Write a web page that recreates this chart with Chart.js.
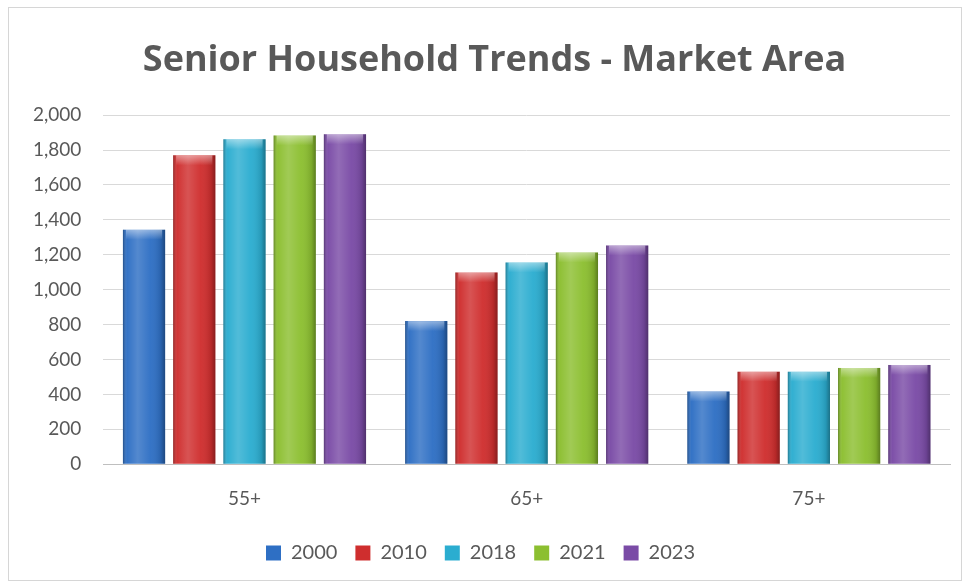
<!DOCTYPE html>
<html>
<head>
<meta charset="utf-8">
<script src="https://cdn.jsdelivr.net/npm/chart.js@4.4.1/dist/chart.umd.min.js"></script>
<style>
    html, body { margin: 0; padding: 0; background: #fff; }
    .frame {
        position: absolute; left: 8px; top: 7px; width: 954px; height: 574px;
        border: 1px solid #d6d6d6; box-sizing: border-box;
    }
    canvas { position: absolute; left: 0; top: 0; }
</style>
</head>
<body>
<div class="frame"></div>
<canvas id="chart" width="967" height="584"></canvas>
<script>
/* Senior household trends - market area */
const categories = ['55+', '65+', '75+'];
const years = ['2000', '2010', '2018', '2021', '2023'];
const values2000 = [1344, 820, 416];
const values2010 = [1770, 1099, 530];
const values2018 = [1862, 1156, 530];
const values2021 = [1884, 1213, 552];
const values2023 = [1891, 1253, 569];
const yTicks = [0, 200, 400, 600, 800, 1000, 1200, 1400, 1600, 1800, 2000];

const seriesValues = [values2000, values2010, values2018, values2021, values2023];
const seriesColors = ['#2e6fc4', '#cf2e2e', '#2badd0', '#8cbf30', '#7a4ba6'];
const textColor = '#595959';
const fontFamily = 'Lato, "Open Sans", sans-serif';

// Glossy shading over each bar, positioned from the bar elements themselves
const bevelPlugin = {
    id: 'bevel',
    afterLayout(chart) {
        // original title sits centred over the plot, not the whole canvas
        if (chart.titleBlock) chart.titleBlock.left += 28;
    },
    afterDatasetsDraw(chart) {
        const ctx = chart.ctx;
        chart.data.datasets.forEach((ds, i) => {
            chart.getDatasetMeta(i).data.forEach(bar => {
                const { x, y, base, width } = bar.getProps(['x', 'y', 'base', 'width'], true);
                const left = x - width / 2;
                const g = ctx.createLinearGradient(left, 0, left + width, 0);
                g.addColorStop(0, 'rgba(0,0,0,0.3)');
                g.addColorStop(0.1, 'rgba(255,255,255,0.03)');
                g.addColorStop(0.35, 'rgba(255,255,255,0.18)');
                g.addColorStop(0.65, 'rgba(255,255,255,0.04)');
                g.addColorStop(0.9, 'rgba(0,0,0,0.12)');
                g.addColorStop(1, 'rgba(0,0,0,0.35)');
                ctx.save();
                ctx.fillStyle = g;
                ctx.fillRect(left, y, width, base - y);
                // top cap highlight
                const cap = ctx.createLinearGradient(0, y, 0, y + 10);
                cap.addColorStop(0, 'rgba(255,255,255,0.45)');
                cap.addColorStop(1, 'rgba(255,255,255,0)');
                ctx.fillStyle = cap;
                ctx.fillRect(left + 3, y, width - 6, 10);
                ctx.restore();
            });
        });
    }
};

const ctx = document.getElementById('chart').getContext('2d');
new Chart(ctx, {
    type: 'bar',
    data: {
        labels: categories,
        datasets: years.map((yr, i) => ({
            label: yr,
            data: seriesValues[i],
            backgroundColor: seriesColors[i],
            borderWidth: 0,
            barPercentage: 0.84,
            categoryPercentage: 0.89
        }))
    },
    options: {
        responsive: false,
        animation: false,
        layout: { padding: { left: 11, right: 17, top: 14, bottom: 11 } },
        plugins: {
            title: {
                display: true,
                text: 'Senior Household Trends - Market Area',
                color: textColor,
                font: { family: '"Open Sans", Lato, sans-serif', size: 36, weight: 'bold' },
                padding: { top: 25, bottom: 33 }
            },
            legend: {
                position: 'bottom',
                labels: {
                    color: textColor,
                    font: { family: fontFamily, size: 20 },
                    boxWidth: 15,
                    boxHeight: 15,
                    padding: 18
                }
            },
            tooltip: { enabled: false }
        },
        scales: {
            y: {
                min: 0,
                max: 2000,
                afterBuildTicks: axis => { axis.ticks = yTicks.map(v => ({ value: v })); },
                grid: { color: '#d9d9d9', drawTicks: false },
                border: { display: false },
                ticks: {
                    color: textColor,
                    padding: 22,
                    font: { family: fontFamily, size: 19 },
                    callback: v => v.toLocaleString('en-US')
                }
            },
            x: {
                grid: { display: false },
                border: { color: '#bfbfbf' },
                ticks: {
                    color: textColor,
                    padding: 15,
                    font: { family: fontFamily, size: 19 }
                }
            }
        }
    },
    plugins: [bevelPlugin]
});
</script>
</body>
</html>
